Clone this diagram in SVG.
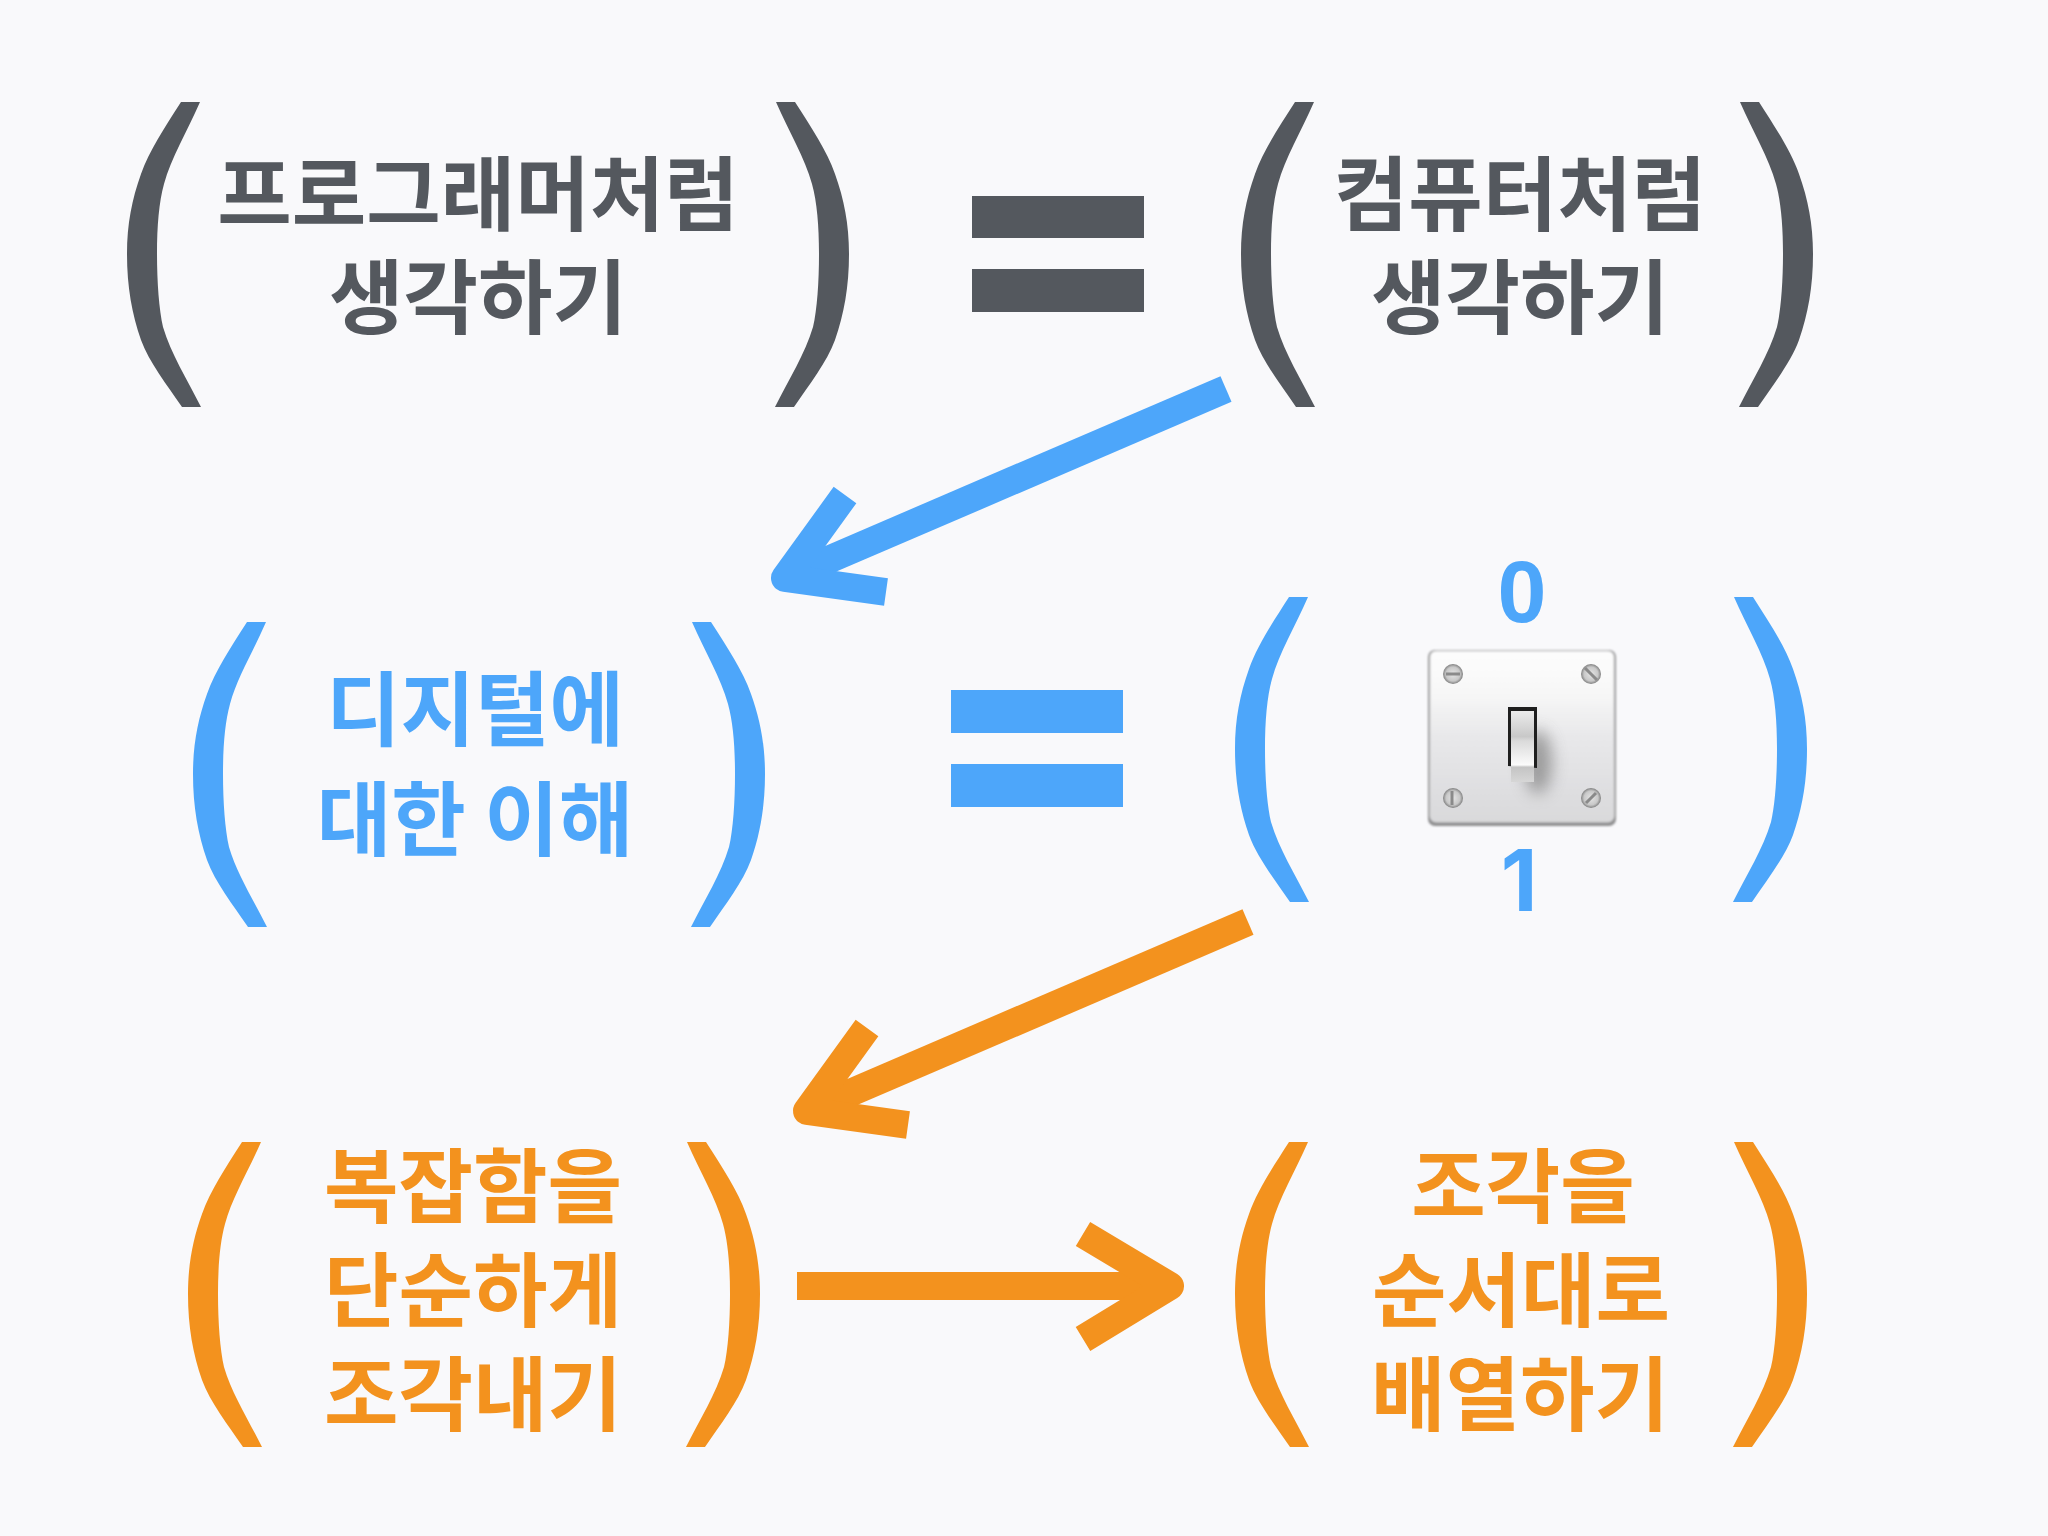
<svg xmlns="http://www.w3.org/2000/svg" width="2048" height="1536" viewBox="0 0 2048 1536">
<style>
text{font-family:"Noto Sans CJK KR","Noto Sans",sans-serif;font-weight:700;font-size:81px;text-anchor:middle}
.g{fill:#54585e}.b{fill:#4da6fa}.o{fill:#f3921e}
text.num{font-family:"Inter",sans-serif;font-weight:700;font-size:85px}
text.zero{font-family:"Liberation Sans",sans-serif;font-weight:700;font-size:88px}
.cb,.co{fill:none;stroke-width:28}
.cb{stroke:#4da6fa}.co{stroke:#f3921e}
.h{stroke-linejoin:round}
</style>
<defs>
<path id="paren" d="M54 0H73C60 30 44 56 37 82C32 100 30 124 30 152C30 180 32 208 36 225C44 252 60 277 74 305H55C40 283 22 260 14 238C5 212 0 185 0 152C0 122 5 97 14 72C22 49 38 25 54 0Z"/>
<linearGradient id="plate" x1="0" y1="0" x2="0" y2="1"><stop offset="0" stop-color="#fdfdfd"/><stop offset=".25" stop-color="#f7f7f7"/><stop offset=".5" stop-color="#e8e8ea"/><stop offset="1" stop-color="#d9d9db"/></linearGradient>
<linearGradient id="lever" x1="0" y1="0" x2="0" y2="1"><stop offset="0" stop-color="#ececec"/><stop offset=".36" stop-color="#c8c8c8"/><stop offset=".42" stop-color="#dadada"/><stop offset=".76" stop-color="#fbfbfb"/><stop offset=".79" stop-color="#c4c4c4"/><stop offset="1" stop-color="#d6d6d6"/></linearGradient>
<radialGradient id="screw"><stop offset="0" stop-color="#e4e4e4"/><stop offset=".7" stop-color="#c8c8c8"/><stop offset="1" stop-color="#808080"/></radialGradient>
<filter id="blur" x="-100%" y="-60%" width="300%" height="220%"><feGaussianBlur stdDeviation="8"/></filter>
<filter id="soft" x="-5%" y="-5%" width="110%" height="110%"><feGaussianBlur stdDeviation="0.8"/></filter>
<g id="scr"><circle r="10" fill="url(#screw)"/></g>
</defs>
<rect width="2048" height="1536" fill="#f9f9fb"/>
<g id="connectors">
<path class="cb" d="M1226 389L800 572"/>
<path class="cb h" d="M845 495L785 578L886 592"/>
<path class="co" d="M1248 922L822 1105"/>
<path class="co h" d="M867 1028L807 1111L908 1125"/>
<path class="co" d="M797 1286H1160"/>
<path class="co h" d="M1083 1234L1170 1286L1083 1339"/>
</g>
<g id="node-programmer" class="g">
<use href="#paren" x="127" y="102"/><use href="#paren" transform="translate(849 102) scale(-1 1)"/>
<text x="478" y="224">프로그래머처럼</text><text x="478" y="327">생각하기</text>
</g>
<g id="equals-1" class="g"><rect x="972" y="196" width="172" height="42"/><rect x="972" y="269" width="172" height="43"/></g>
<g id="node-computer" class="g">
<use href="#paren" x="1241" y="102"/><use href="#paren" transform="translate(1813 102) scale(-1 1)"/>
<text x="1520" y="224">컴퓨터처럼</text><text x="1520" y="327">생각하기</text>
</g>
<g id="node-digital" class="b">
<use href="#paren" x="193" y="622"/><use href="#paren" transform="translate(765 622) scale(-1 1)"/>
<text x="475" y="739">디지털에</text><text x="475" y="849">대한 이해</text>
</g>
<g id="equals-2" class="b"><rect x="951" y="690" width="172" height="43"/><rect x="951" y="764" width="172" height="43"/></g>
<g id="node-switch">
<g class="b"><use href="#paren" x="1235" y="597"/><use href="#paren" transform="translate(1807 597) scale(-1 1)"/>
<text class="zero" x="1522" y="622">0</text><text class="num" x="1519" y="911">1</text></g>
<g filter="url(#soft)">
<rect x="1428" y="650" width="188" height="176" rx="7" fill="#8f8f90"/>
<rect x="1430" y="651" width="184" height="171" rx="6" fill="url(#plate)" stroke="#d4d4d5"/>
</g>
<use href="#scr" x="1453" y="674"/><use href="#scr" x="1591" y="674"/><use href="#scr" x="1453" y="798"/><use href="#scr" x="1591" y="798"/>
<path d="M1446 674H1460M1585 668L1597 680M1452 791V805M1586 803L1596 793" stroke="#8a8a8a" stroke-width="3" fill="none"/>
<ellipse cx="1538" cy="762" rx="14" ry="32" fill="#8a8a8a" opacity=".8" filter="url(#blur)"/>
<path d="M1508 707H1537V768L1508 766Z" fill="#1f1f1f"/>
<rect x="1511" y="711" width="23" height="71" fill="url(#lever)"/>
</g>
<g id="node-complexity" class="o">
<use href="#paren" x="188" y="1142"/><use href="#paren" transform="translate(760 1142) scale(-1 1)"/>
<text x="473" y="1216">복잡함을</text><text x="473" y="1320">단순하게</text><text x="473" y="1424">조각내기</text>
</g>
<g id="node-sequence" class="o">
<use href="#paren" x="1235" y="1142"/><use href="#paren" transform="translate(1807 1142) scale(-1 1)"/>
<text x="1523" y="1216">조각을</text><text x="1521" y="1320">순서대로</text><text x="1520" y="1424">배열하기</text>
</g>
</svg>
